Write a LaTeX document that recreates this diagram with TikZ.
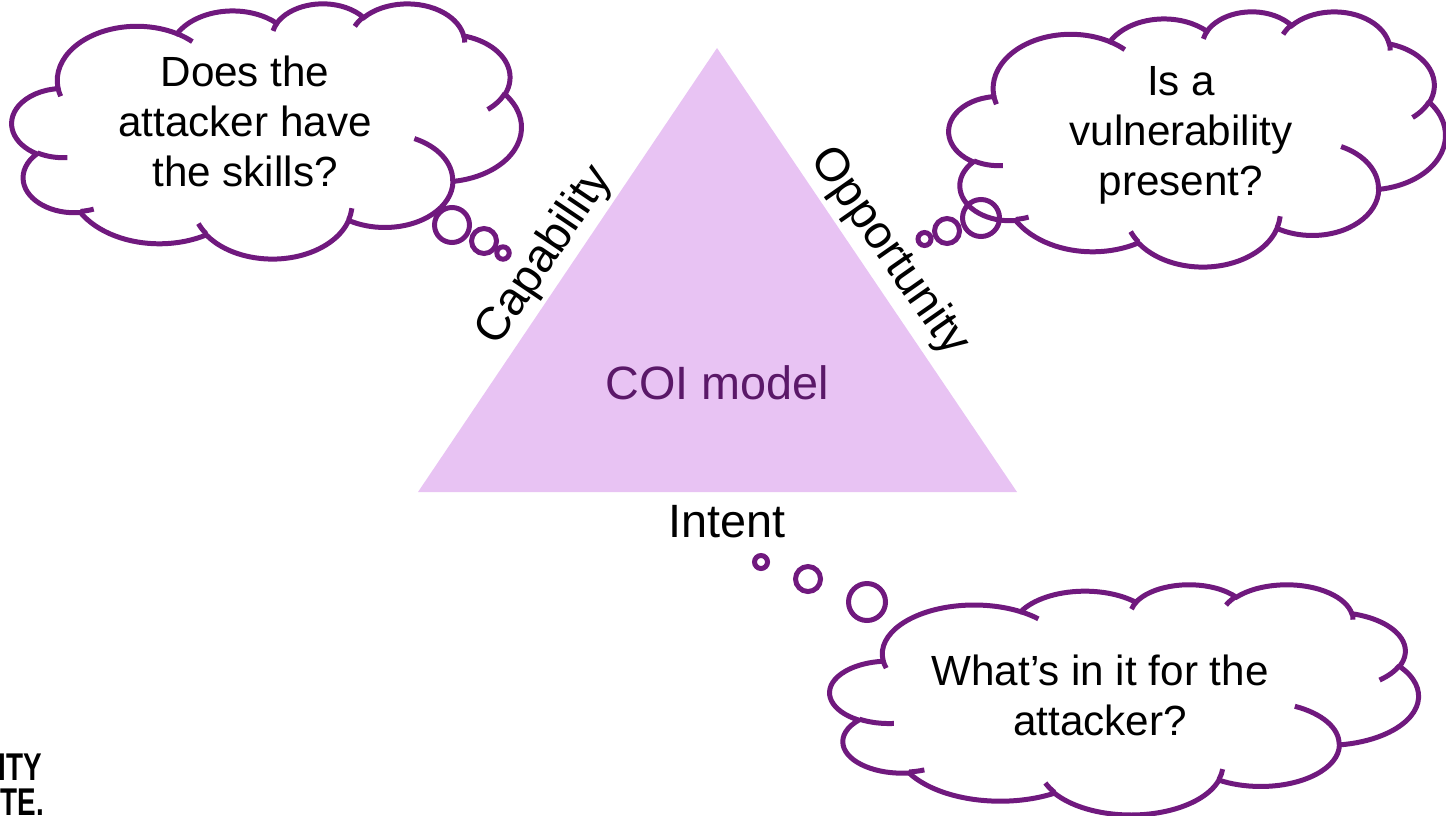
\documentclass[tikz,border=0pt]{standalone}
\usepackage{fontspec}
\usepackage{graphicx}
\setmainfont{Liberation Sans}
\definecolor{cloudpurple}{RGB}{112,25,126}
\definecolor{trifill}{RGB}{232,195,243}
\definecolor{coitext}{RGB}{90,24,104}

% arc of a DrawingML ellipse given by visual start angle and sweep
\newcommand{\carc}[4]{arc[x radius=#1, y radius=#2, start angle={atan2((#1)*sin(#3),(#2)*cos(#3))}, delta angle={mod(atan2((#1)*sin((#3)+(#4)),(#2)*cos((#3)+(#4)))-atan2((#1)*sin(#3),(#2)*cos(#3))+720,360)}]}

\newcommand{\drawcloud}[5]{%
  \pgfmathsetmacro\cwx{#4*0.284528/43.2}%
  \pgfmathsetmacro\cwy{#5*0.284528/43.2}%
  \begin{scope}[shift={(#2,#3)}, x=\cwx pt, y=-\cwy pt]
    \draw[cloudline, fill=white] (3.9,14.37)
      \carc{6.753}{9.190}{-190.48748}{123.78053}
      \carc{5.333}{7.267}{-144.10238}{89.94523}
      \carc{4.365}{5.945}{-145.80792}{99.72302}
      \carc{4.857}{6.595}{-130.98607}{117.24173}
      \carc{5.333}{7.273}{-78.70888}{109.02692}
      \carc{6.775}{9.220}{-46.26725}{130.26900}
      \carc{5.785}{7.867}{0.62502}{114.03333}
      \carc{6.752}{9.215}{22.45160}{115.17255}
      \carc{7.720}{10.543}{66.24263}{75.71102}
      \carc{4.360}{5.918}{-274.94208}{146.73557}
      \carc{4.345}{5.945}{-246.82850}{152.51885}
      -- cycle;
    \draw[cloudline]
      (4.693,26.177) \carc{4.345}{5.945}{86.742}{26.4295}
      (6.928,34.899) \carc{4.360}{5.918}{73.6105}{11.4475}
      (16.478,39.090) \carc{6.752}{9.215}{137.6242}{14.0811}
      (28.827,34.751) \carc{6.752}{9.215}{6.4533}{15.9984}
      (34.129,22.954) \carc{5.785}{7.867}{-70.2924}{70.9174}
      (41.798,15.354) \carc{5.333}{7.273}{30.3180}{27.7515}
      (38.324,5.426) \carc{4.857}{6.595}{-13.7443}{14.8589}
      (29.078,3.952) \carc{4.857}{6.595}{-149.1815}{18.1954}
      (22.141,4.720) \carc{4.365}{5.945}{-163.4943}{17.6864}
      (14.000,5.192) \carc{6.753}{9.190}{-66.7070}{12.3194}
      (4.127,15.789) \carc{6.753}{9.190}{157.6544}{11.8582};
    \coordinate (#1) at (21.6,21.6);
  \end{scope}}

\tikzset{
  cloudline/.style={draw=cloudpurple, line width=1.42pt},
  bubble/.style={draw=cloudpurple, line width=1.42pt},
  cloudtext/.style={font=\fontsize{12}{14.2}\selectfont, align=center, text=black, inner sep=0pt},
  sidelabel/.style={font=\fontsize{13.3}{15}\selectfont, text=black, inner sep=0pt},
  logotext/.style={font=\fontsize{11}{13}\selectfont\bfseries, text=black, inner sep=0pt},
}

\begin{document}
\begin{tikzpicture}[x=0.01cm, y=-0.01cm]
\useasboundingbox (0,0) rectangle (1446,815);

% triangle
\coordinate (apex) at (717,48);
\coordinate (bl) at (418,492);
\coordinate (br) at (1017,492);
\fill[trifill] (apex) -- (bl) -- (br) -- cycle;
\node[font=\fontsize{13.3}{15}\selectfont, text=coitext, inner sep=0pt] (coi) at (717,383) {COI model};
\node[sidelabel, rotate=56] (cap) at (545,256) {Capability};
\node[sidelabel, rotate=-55] (opp) at (889,252) {Opportunity};
\node[sidelabel] (intent) at (727,522) {Intent};

% clouds
\drawcloud{c1}{12}{3}{509}{255}
\drawcloud{c2}{949}{11}{496}{255}
\drawcloud{c3}{830}{584}{588}{230}

\node[cloudtext] (t1) at (245,121) {Does the\\attacker have\\the skills?};
\node[cloudtext] (t2) at (1181,135) {Is a\\vulnerability\\present?};
\node[cloudtext] (t3) at (1100,695) {What’s in it for the\\attacker?};

% thought bubbles
\draw[bubble] (452,225) circle (17.5);
\draw[bubble] (484,241) circle (12.5);
\draw[bubble] (503,253) circle (6.2);
\draw[bubble] (981,218) circle (18.5);
\draw[bubble] (947,231) circle (12.5);
\draw[bubble] (924.5,239) circle (6.5);
\draw[bubble] (761,562) circle (6.5);
\draw[bubble] (808,579) circle (12.5);
\draw[bubble] (867,602) circle (18.5);

% cut-off logo text
\node[logotext, anchor=base east] (logo1) at (43,780) {\scalebox{0.72}[1]{ITY}};
\node[logotext, anchor=base east] (logo2) at (45,815) {\scalebox{0.72}[1]{TE.}};
\end{tikzpicture}
\end{document}
